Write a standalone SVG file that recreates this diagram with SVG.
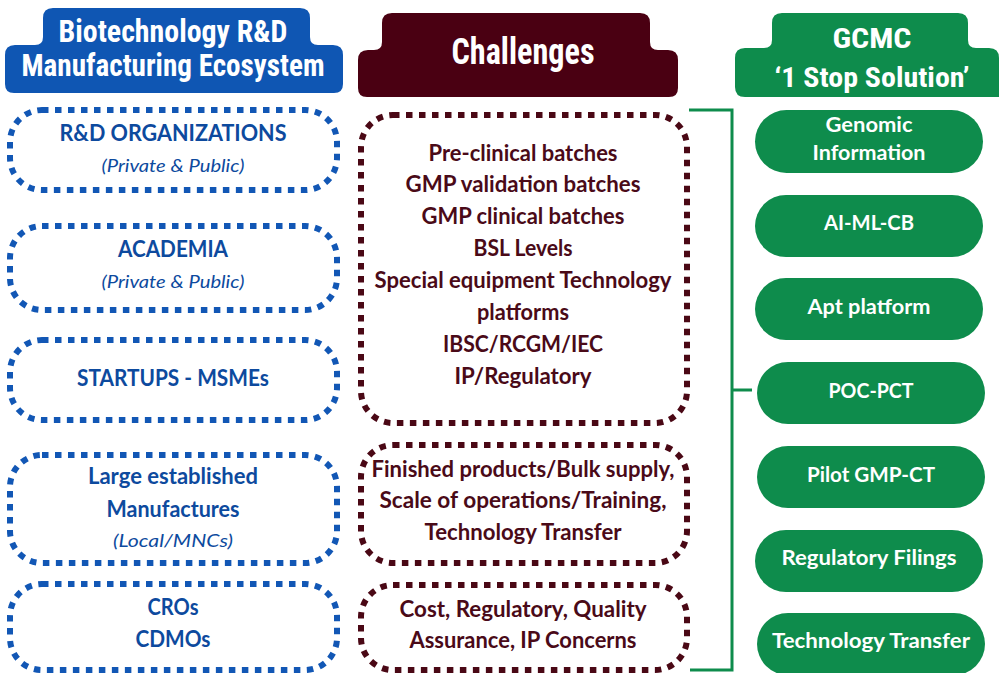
<svg xmlns="http://www.w3.org/2000/svg" width="999" height="673" viewBox="0 0 999 673">
<style>
.hd{font-family:"Liberation Sans Narrow","Roboto Condensed","Liberation Sans",sans-serif;font-weight:700;fill:#fff;text-anchor:middle}
.tb{font-family:Lato,"Open Sans",sans-serif;font-weight:700;text-anchor:middle;font-size:22px}
.tb-blue{fill:#0d4a9e}
.ti{font-family:Lato,"Open Sans",sans-serif;font-style:italic;font-weight:400;text-anchor:middle;font-size:18px;fill:#0d4a9e}
.tm{fill:#4a0a18}
.tw{fill:#fff;font-size:21px}
.dotb{fill:#fff;stroke:#1257b5;stroke-width:6;stroke-dasharray:6.5 6.5}
.dotm{fill:#fff;stroke:#4a0815;stroke-width:6;stroke-dasharray:6.5 6.5}
.pill{fill:#0e8c4c}
.conn{fill:none;stroke:#0e8c4c;stroke-width:3}
</style>
<rect width="999" height="673" fill="#fff"/>

<g id="header-ecosystem">
<path d="M53 8 H300 Q310 8 310 18 V37 Q310 45 318 45 H333 Q343 45 343 55 V84 Q343 93 334 93 H14 Q5 93 5 84 V55 Q5 45 15 45 H35 Q43 45 43 37 V18 Q43 8 53 8 Z" fill="#0f56b3"/>
<text class="hd" x="173" y="42" font-size="31" textLength="229" lengthAdjust="spacingAndGlyphs">Biotechnology R&amp;D</text>
<text class="hd" x="173" y="76" font-size="31" textLength="303" lengthAdjust="spacingAndGlyphs">Manufacturing Ecosystem</text>
</g>

<g id="header-challenges">
<path d="M392 13 H640 Q650 13 650 23 V42 Q650 50 658 50 H668 Q678 50 678 60 V88 Q678 97 669 97 H367 Q358 97 358 88 V60 Q358 50 368 50 H374 Q382 50 382 42 V23 Q382 13 392 13 Z" fill="#4a0012"/>
<text class="hd" x="523" y="64" font-size="37" textLength="143" lengthAdjust="spacingAndGlyphs">Challenges</text>
</g>

<g id="header-gcmc">
<path d="M782 13 H958 Q968 13 968 23 V40 Q968 48 976 48 H989 Q999 48 999 58 V97 H745 Q735 97 735 87 V58 Q735 48 745 48 H764 Q772 48 772 40 V23 Q772 13 782 13 Z" fill="#0e8c4c"/>
<text class="hd" x="872" y="48" font-size="28" textLength="79" lengthAdjust="spacingAndGlyphs">GCMC</text>
<text class="hd" x="872" y="87" font-size="28" textLength="195" lengthAdjust="spacingAndGlyphs">‘1 Stop Solution’</text>
</g>

<g id="eco-rd">
<rect class="dotb" x="10" y="110" width="327" height="80" rx="32"/>
<text class="tb tb-blue" x="173" y="141" textLength="227" lengthAdjust="spacingAndGlyphs">R&amp;D ORGANIZATIONS</text>
<text class="ti" x="173" y="172" textLength="143" lengthAdjust="spacingAndGlyphs">(Private &amp; Public)</text>
</g>
<g id="eco-academia">
<rect class="dotb" x="10" y="226" width="327" height="84" rx="32"/>
<text class="tb tb-blue" x="173" y="257" textLength="110" lengthAdjust="spacingAndGlyphs">ACADEMIA</text>
<text class="ti" x="173" y="288" textLength="143" lengthAdjust="spacingAndGlyphs">(Private &amp; Public)</text>
</g>
<g id="eco-startups">
<rect class="dotb" x="10" y="340" width="327" height="80" rx="32"/>
<text class="tb tb-blue" x="173" y="386" textLength="192" lengthAdjust="spacingAndGlyphs">STARTUPS - MSMEs</text>
</g>
<g id="eco-large">
<rect class="dotb" x="10" y="455" width="327" height="108" rx="32"/>
<text class="tb tb-blue" x="173" y="484" textLength="170" lengthAdjust="spacingAndGlyphs">Large established</text>
<text class="tb tb-blue" x="173" y="517" textLength="133" lengthAdjust="spacingAndGlyphs">Manufactures</text>
<text class="ti" x="173" y="547" textLength="120" lengthAdjust="spacingAndGlyphs">(Local/MNCs)</text>
</g>
<g id="eco-cros">
<rect class="dotb" x="10" y="584" width="327" height="86" rx="32"/>
<text class="tb tb-blue" x="173" y="615" textLength="51" lengthAdjust="spacingAndGlyphs">CROs</text>
<text class="tb tb-blue" x="173" y="647" textLength="75" lengthAdjust="spacingAndGlyphs">CDMOs</text>
</g>

<g id="ch-research">
<rect class="dotm" x="361" y="115" width="326" height="308" rx="32"/>
<text class="tb tm" x="523" y="161" textLength="189" lengthAdjust="spacingAndGlyphs">Pre-clinical batches</text>
<text class="tb tm" x="523" y="192" textLength="235" lengthAdjust="spacingAndGlyphs">GMP validation batches</text>
<text class="tb tm" x="523" y="224" textLength="203" lengthAdjust="spacingAndGlyphs">GMP clinical batches</text>
<text class="tb tm" x="523" y="256" textLength="99" lengthAdjust="spacingAndGlyphs">BSL Levels</text>
<text class="tb tm" x="523" y="288" textLength="297" lengthAdjust="spacingAndGlyphs">Special equipment Technology</text>
<text class="tb tm" x="523" y="320" textLength="92" lengthAdjust="spacingAndGlyphs">platforms</text>
<text class="tb tm" x="523" y="352" textLength="160" lengthAdjust="spacingAndGlyphs">IBSC/RCGM/IEC</text>
<text class="tb tm" x="523" y="384" textLength="137" lengthAdjust="spacingAndGlyphs">IP/Regulatory</text>
</g>
<g id="ch-manufacturing">
<rect class="dotm" x="361" y="445" width="326" height="118" rx="32"/>
<text class="tb tm" x="523" y="477" textLength="303" lengthAdjust="spacingAndGlyphs">Finished products/Bulk supply,</text>
<text class="tb tm" x="523" y="508" textLength="287" lengthAdjust="spacingAndGlyphs">Scale of operations/Training,</text>
<text class="tb tm" x="523" y="540" textLength="197" lengthAdjust="spacingAndGlyphs">Technology Transfer</text>
</g>
<g id="ch-cost">
<rect class="dotm" x="361" y="585" width="326" height="85" rx="32"/>
<text class="tb tm" x="523" y="617" textLength="247" lengthAdjust="spacingAndGlyphs">Cost, Regulatory, Quality</text>
<text class="tb tm" x="523" y="648" textLength="227" lengthAdjust="spacingAndGlyphs">Assurance, IP Concerns</text>
</g>

<g id="connectors">
<polyline class="conn" points="689,110 732,110 732,670 690,670"/>
<line class="conn" x1="732" y1="390" x2="752" y2="390"/>
</g>

<g id="s-genomic">
<rect class="pill" x="755" y="110" width="228" height="63" rx="31.5"/>
<text class="tb tw" x="869" y="132" textLength="87" lengthAdjust="spacingAndGlyphs">Genomic</text>
<text class="tb tw" x="869" y="160" textLength="113" lengthAdjust="spacingAndGlyphs">Information</text>
</g>
<g id="s-aiml">
<rect class="pill" x="755" y="195" width="228" height="62" rx="31"/>
<text class="tb tw" x="869" y="230" textLength="90" lengthAdjust="spacingAndGlyphs">AI-ML-CB</text>
</g>
<g id="s-apt">
<rect class="pill" x="755" y="278" width="228" height="62" rx="31"/>
<text class="tb tw" x="869" y="314" textLength="123" lengthAdjust="spacingAndGlyphs">Apt platform</text>
</g>
<g id="s-poc">
<rect class="pill" x="757" y="362" width="228" height="62" rx="31"/>
<text class="tb tw" x="871" y="398" textLength="85" lengthAdjust="spacingAndGlyphs">POC-PCT</text>
</g>
<g id="s-pilot">
<rect class="pill" x="757" y="446" width="228" height="62" rx="31"/>
<text class="tb tw" x="871" y="482" textLength="128" lengthAdjust="spacingAndGlyphs">Pilot GMP-CT</text>
</g>
<g id="s-regulatory">
<rect class="pill" x="755" y="530" width="228" height="62" rx="31"/>
<text class="tb tw" x="869" y="565" textLength="175" lengthAdjust="spacingAndGlyphs">Regulatory Filings</text>
</g>
<g id="s-transfer">
<rect class="pill" x="757" y="613" width="228" height="62" rx="31"/>
<text class="tb tw" x="871" y="648" textLength="198" lengthAdjust="spacingAndGlyphs">Technology Transfer</text>
</g>
</svg>
